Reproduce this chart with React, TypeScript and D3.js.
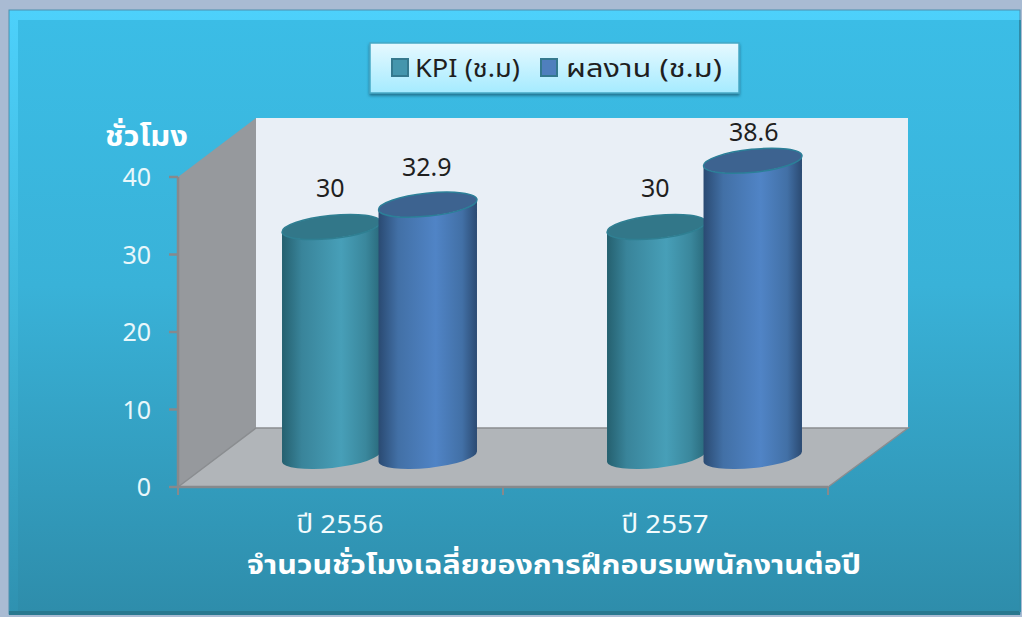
import React from "react";
import * as d3 from "d3";

const categories = ["ปี 2556", "ปี 2557"];
const seriesNames = ["KPI (ช.ม)", "ผลงาน (ช.ม)"];
const kpiValues = [30, 30];
const resultValues = [32.9, 38.6];
const yTicks = [0, 10, 20, 30, 40];
const yAxisTitle = "ชั่วโมง";
const xAxisTitle = "จำนวนชั่วโมงเฉลี่ยของการฝึกอบรมพนักงานต่อปี";

const FONT = "'Noto Sans Thai','Noto Sans',Tahoma,'DejaVu Sans',sans-serif";
const W = 1022, H = 617;
const dx = 78, dy = -59;

const yAxis = d3.scaleLinear().domain([0, 40]).range([487, 177]);
const yBar = d3.scaleLinear().domain([0, 40]).range([458, 150]);
const xBand = d3.scaleBand<string>().domain(categories).range([178, 828]);
const xSeries = d3.scaleBand<number>().domain([0, 1]).range([105, 298]);

const rx = 49.5, ry = 11.5, tilt = -6;

function Cylinder({ cx, top, bottom, grad, topFill, stroke }: any) {
  const a = (tilt * Math.PI) / 180;
  const ex = rx * Math.cos(a), ey = rx * Math.sin(a);
  const d =
    `M${cx - ex},${top - ey} L${cx - ex},${bottom - ey} ` +
    `A${rx},${ry} ${tilt} 0 0 ${cx + ex},${bottom + ey} ` +
    `L${cx + ex},${top + ey} ` +
    `A${rx},${ry} ${tilt} 0 1 ${cx - ex},${top - ey} Z`;
  return (
    <g>
      <path d={d} fill={`url(#${grad})`} />
      <ellipse cx={cx} cy={top} rx={rx} ry={ry} transform={`rotate(${tilt} ${cx} ${top})`} fill={topFill} stroke={stroke} strokeWidth={1.5} />
    </g>
  );
}

export default function App() {
  const x0 = 178, x1 = 828, y0 = yAxis(0), yT = yAxis(40);
  const backR = x1 + 80;
  const series = [kpiValues, resultValues];
  const grads = ["gKpi", "gRes"];
  const tops = ["#327789", "#3d6390"];
  const strokes = ["#2f7f92", "#2b7f98"];
  const legendItems = [
    { x: 392, tx: 415, len: 105, fill: "#4496ad", stroke: "#34798e" },
    { x: 541, tx: 566, len: 156, fill: "#4f7fbd", stroke: "#34798e" },
  ];
  const labelShift = [
    [{ x: -1, y: -30 }, { x: -1, y: -29 }],
    [{ x: -1, y: -30 }, { x: 1, y: -20 }],
  ];
  return (
    <svg width={W} height={H} style={{ position: "fixed", left: 0, top: 0, display: "block" }} fontFamily={FONT}>
      <defs>
        <linearGradient id="bg" x1="0" x2="0" y1="0" y2="1">
          <stop offset="0" stopColor="#3bbde6" />
          <stop offset="0.45" stopColor="#39b2d8" />
          <stop offset="1" stopColor="#2e8dab" />
        </linearGradient>
        <linearGradient id="frame" x1="0" x2="0" y1="0" y2="1">
          <stop offset="0" stopColor="#4dd1fb" />
          <stop offset="0.5" stopColor="#3fb6da" />
          <stop offset="1" stopColor="#2f91b0" />
        </linearGradient>
        <linearGradient id="legend" x1="0" x2="0" y1="0" y2="1">
          <stop offset="0" stopColor="#e6f9ff" />
          <stop offset="1" stopColor="#a5ebff" />
        </linearGradient>
        <linearGradient id="gKpi" x1="0" x2="1" y1="0" y2="0">
          <stop offset="0" stopColor="#25606f" />
          <stop offset="0.2" stopColor="#39849a" />
          <stop offset="0.6" stopColor="#479fb8" />
          <stop offset="0.85" stopColor="#3a879c" />
          <stop offset="1" stopColor="#2a6a7c" />
        </linearGradient>
        <linearGradient id="gRes" x1="0" x2="1" y1="0" y2="0">
          <stop offset="0" stopColor="#2a4a72" />
          <stop offset="0.2" stopColor="#4270a6" />
          <stop offset="0.58" stopColor="#5084c6" />
          <stop offset="0.85" stopColor="#4270a6" />
          <stop offset="1" stopColor="#2b4a72" />
        </linearGradient>
        <filter id="shadow" x="-5%" y="-20%" width="110%" height="150%">
          <feDropShadow dx="0" dy="2" stdDeviation="1.5" floodColor="#1f5f78" floodOpacity="0.8" />
        </filter>
      </defs>

      <rect width={W} height={H} fill="#a9bbd3" />
      <rect x={9} y={10} width={1011} height={604} fill="url(#frame)" stroke="#4f8fae" strokeWidth={1} />
      <rect x={18} y={20} width={1002} height={591} fill="url(#bg)" />
      <rect x={9} y={611} width={1011} height={4} fill="#28788f" />
      <rect x={1019} y={20} width={2} height={592} fill="#2f8ca8" />

      {/* legend */}
      <rect x={370} y={43} width={369} height={50} fill="url(#legend)" stroke="#46a9c6" strokeWidth={1.5} filter="url(#shadow)" />
      {legendItems.map((it, i) => (
        <g key={i}>
          <rect x={it.x} y={59} width={16} height={17} fill={it.fill} stroke={it.stroke} strokeWidth={2} />
          <text x={it.tx} y={77} fontSize={25} fill="#1f1f1f" textLength={it.len} lengthAdjust="spacingAndGlyphs">{seriesNames[i]}</text>
        </g>
      ))}

      {/* walls */}
      <polygon points={`${x0 + dx},${yT + dy} ${backR},${yT + dy} ${backR},${y0 + dy} ${x0 + dx},${y0 + dy}`} fill="#e9eff6" />
      <polygon points={`${x0},${yT} ${x0 + dx},${yT + dy} ${x0 + dx},${y0 + dy} ${x0},${y0}`} fill="#96999d" />
      <polygon points={`${x0},${y0} ${x0 + dx},${y0 + dy} ${backR},${y0 + dy} ${x1},${y0}`} fill="#b1b5b9" />
      <path d={`M${x0},${y0} L${x0 + dx},${y0 + dy} L${backR},${y0 + dy} L${x1},${y0}`} fill="none" stroke="#8b8d90" strokeWidth={1.5} />

      {/* axes */}
      <path d={`M${x0},${yT} L${x0},${y0} L${x1},${y0}`} fill="none" stroke="#87898c" strokeWidth={2.5} />
      {yTicks.map((t) => (
        <g key={t}>
          <line x1={x0 - 9} x2={x0} y1={yAxis(t)} y2={yAxis(t)} stroke="#87898c" strokeWidth={2.5} />
          <text x={x0 - 27} y={yAxis(t) + 9} textAnchor="end" fontSize={25} fill="#e8f7fb">{t}</text>
        </g>
      ))}
      {[...categories.map((c) => xBand(c)!), x1].map((x, i) => (
        <line key={i} x1={x} x2={x} y1={y0} y2={y0 + 8} stroke="#87898c" strokeWidth={2} />
      ))}

      {/* cylinders */}
      {categories.map((c, ci) => (
        <g key={c}>
          {series.map((vals, si) => {
            const cx = xBand(c)! + xSeries(si)! + xSeries.bandwidth() / 2;
            return (
              <Cylinder key={si} cx={cx} top={yBar(vals[ci])} bottom={yBar(0) - 1.5} grad={grads[si]} topFill={tops[si]} stroke={strokes[si]} />
            );
          })}
          {series.map((vals, si) => {
            const cx = xBand(c)! + xSeries(si)! + xSeries.bandwidth() / 2;
            const s = labelShift[ci][si];
            return (
              <text key={si} x={cx + s.x} y={yBar(vals[ci]) + s.y} textAnchor="middle" fontSize={25} fill="#1f1f1f">
                {vals[ci]}
              </text>
            );
          })}
          <text x={xBand(c)! + 162} y={533} textAnchor="middle" fontSize={26} fill="#f2fbfd" textLength={87} lengthAdjust="spacingAndGlyphs">{c}</text>
        </g>
      ))}

      <text x={146.5} y={146} textAnchor="middle" fontSize={28} fontWeight={700} fill="#ffffff" textLength={83} lengthAdjust="spacingAndGlyphs">{yAxisTitle}</text>
      <text x={554} y={574} textAnchor="middle" fontSize={27} fontWeight={700} fill="#ffffff" textLength={614} lengthAdjust="spacingAndGlyphs">{xAxisTitle}</text>
    </svg>
  );
}
